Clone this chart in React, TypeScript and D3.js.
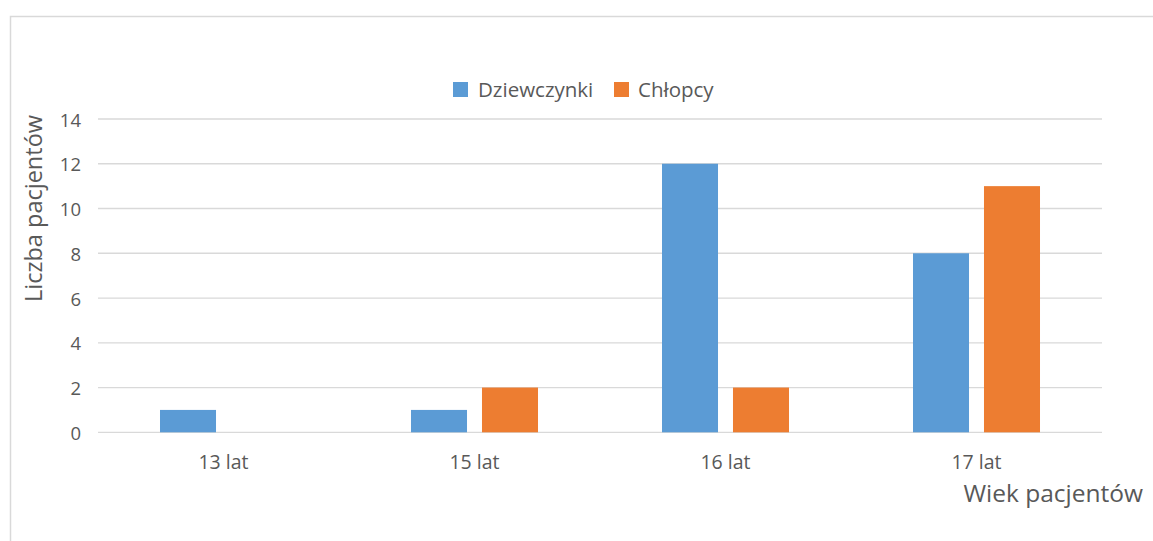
import React from "react";
import * as d3 from "d3";

const categories = ["13 lat", "15 lat", "16 lat", "17 lat"];
const seriesNames = ["Dziewczynki", "Chłopcy"];
const dziewczynki = [1, 1, 12, 8];
const chlopcy = [0, 2, 2, 11];
const yTicks = [0, 2, 4, 6, 8, 10, 12, 14];
const colors = ["#5B9BD5", "#ED7D31"];

const W = 1153;
const H = 541;
const FONT = "'Open Sans', sans-serif";
const TEXT = "#595959";

export default function App() {
  const x0 = d3.scaleBand<string>().domain(categories).range([98, 1102]).paddingInner(0).paddingOuter(0);
  const bw = x0.bandwidth();
  const x1 = d3
    .scaleBand<string>()
    .domain(seriesNames)
    .range([bw * 0.247, bw * (1 - 0.247)])
    .paddingInner(0.211);
  const y = d3.scaleLinear().domain([0, 14]).range([432.3, 119]);
  const series = [dziewczynki, chlopcy];

  return (
    <svg
      width={W}
      height={H}
      style={{ position: "absolute", left: 0, top: 0, background: "#fff" }}
      fontFamily={FONT}
    >
      <rect x={10.5} y={16.5} width={W} height={H} fill="#fff" stroke="#d9d9d9" strokeWidth={1.5} />
      {yTicks.map((t) => (
        <g key={t}>
          <line x1={98} x2={1102} y1={y(t)} y2={y(t)} stroke="#d9d9d9" strokeWidth={1.3} />
          <text x={81} y={y(t) + 7.5} textAnchor="end" fontSize={18.5} fill={TEXT}>
            {t}
          </text>
        </g>
      ))}
      {categories.map((c, i) => (
        <g key={c} transform={`translate(${x0(c)},0)`}>
          {series.map((s, j) => (
            <rect
              key={j}
              x={x1(seriesNames[j])}
              width={x1.bandwidth()}
              y={y(s[i])}
              height={y(0) - y(s[i])}
              fill={colors[j]}
            />
          ))}
          <text x={bw / 2} y={469} textAnchor="middle" fontSize={19.5} fill={TEXT}>
            {c}
          </text>
        </g>
      ))}
      <text
        transform="translate(42,208.5) rotate(-90)"
        textAnchor="middle"
        fontSize={23.5}
        fill={TEXT}
      >
        Liczba pacjentów
      </text>
      <text x={1143} y={502} textAnchor="end" fontSize={24.5} fill={TEXT}>
        Wiek pacjentów
      </text>
      <g>
        <rect x={453} y={82} width={15} height={15} fill={colors[0]} />
        <text x={478} y={97} fontSize={20.5} fill={TEXT}>
          {seriesNames[0]}
        </text>
        <rect x={614} y={82} width={15} height={15} fill={colors[1]} />
        <text x={638} y={97} fontSize={20.5} fill={TEXT}>
          {seriesNames[1]}
        </text>
      </g>
    </svg>
  );
}
